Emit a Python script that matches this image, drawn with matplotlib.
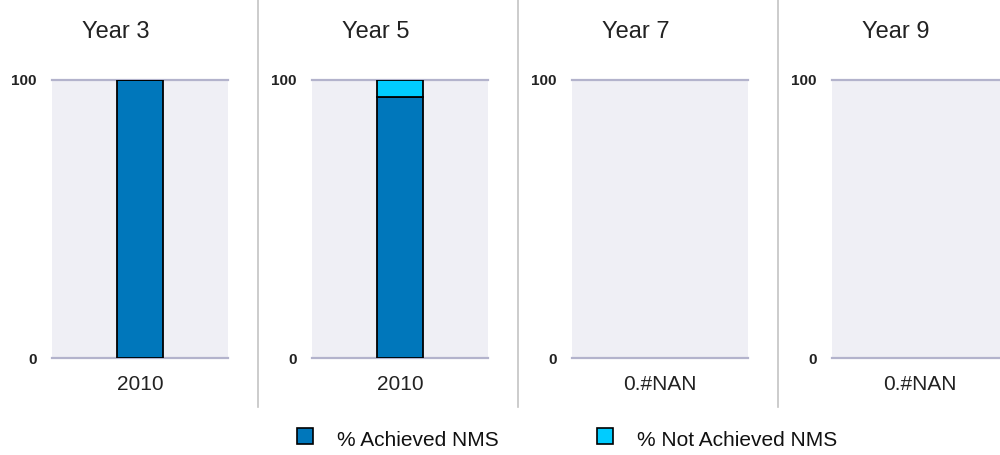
import matplotlib
matplotlib.use("Agg")
import matplotlib.pyplot as plt
from matplotlib.patches import Rectangle
from matplotlib.lines import Line2D

plt.rcParams['font.family'] = ['Liberation Sans', 'DejaVu Sans']

# ---- data ----
panel_titles = ["Year 3", "Year 5", "Year 7", "Year 9"]
panel_categories = [["2010"], ["2010"], ["0.#NAN"], ["0.#NAN"]]
achieved = [[100], [94], [], []]
not_achieved = [[0], [6], [], []]
series_names = ["% Achieved NMS", "% Not Achieved NMS"]
y_ticks = [0, 100]

# ---- style ----
W, H = 1000, 455
c_ach = "#0077bb"
c_not = "#00ccff"
bg = "#efeff5"
gridc = "#b3b3cc"
sepc = "#c4c4c4"

fig = plt.figure(figsize=(W / 100, H / 100), dpi=100)

def fx(px):
    return px / W

def fy(py):
    return 1 - py / H

plot_lefts = [52, 312, 572, 832]
plot_w = 176
top_px, bot_px = 80, 358

for i, left in enumerate(plot_lefts):
    ax = fig.add_axes([fx(left), fy(bot_px), plot_w / W, (bot_px - top_px) / H])
    ax.set_facecolor(bg)
    for s in ax.spines.values():
        s.set_visible(False)
    ax.set_xlim(-0.5, 0.5)
    ax.set_ylim(0, 100)
    for yv in y_ticks:
        ax.axhline(yv, color=gridc, lw=1.6, zorder=1, clip_on=False)
    cats = panel_categories[i]
    if achieved[i]:
        xs = list(range(len(cats)))
        ax.bar(xs, achieved[i], width=0.267, color=c_ach, edgecolor="black",
               linewidth=1.3, zorder=3)
        ax.bar(xs, not_achieved[i], bottom=achieved[i], width=0.267, color=c_not,
               edgecolor="black", linewidth=1.3, zorder=3)
        ax.set_xticks(xs)
        ax.set_xticklabels(cats)
    else:
        ax.set_xticks([0])
        ax.set_xticklabels(cats)
    ax.set_yticks(y_ticks)
    ax.set_yticklabels([str(v) for v in y_ticks], fontsize=11, fontweight="bold",
                       color="#222222")
    ax.tick_params(axis="both", length=0)
    ax.tick_params(axis="y", pad=11)
    ax.tick_params(axis="x", pad=12, labelsize=15, labelcolor="#222222")
    fig.text(fx(left + plot_w / 2 - 24), fy(32), panel_titles[i], ha="center",
             va="center", fontsize=17, color="#222222")

# separators
for xs_px in [257.5, 517.5, 777.5]:
    fig.add_artist(Line2D([fx(xs_px), fx(xs_px)], [fy(0), fy(407)],
                          color=sepc, lw=1.2))

# legend
leg_items = [(297, c_ach, series_names[0]), (597, c_not, series_names[1])]
for x0, col, lab in leg_items:
    fig.add_artist(Rectangle((fx(x0), fy(444)), 16 / W, 16 / H,
                             facecolor=col, edgecolor="black", lw=1.2,
                             transform=fig.transFigure))
    fig.text(fx(x0 + 40), fy(441), lab, ha="left", va="center", fontsize=15,
             color="#111111")

fig.savefig("out.png", dpi=100)
